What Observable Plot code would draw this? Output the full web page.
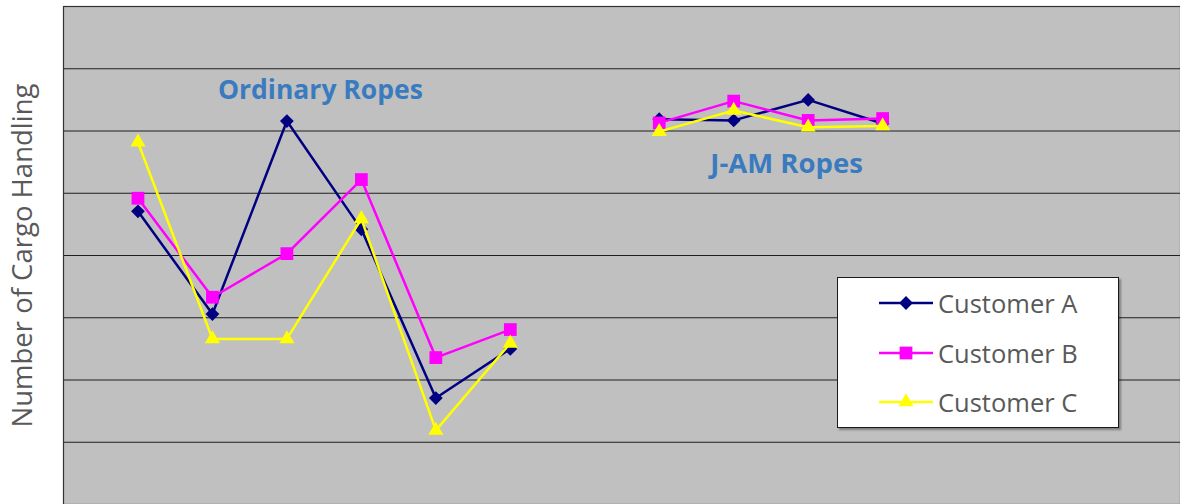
<!DOCTYPE html>
<html>
<head>
<meta charset="utf-8">
<script src="https://cdn.jsdelivr.net/npm/d3@7"></script>
<script src="https://cdn.jsdelivr.net/npm/@observablehq/plot@0.6"></script>
<style>
  body { margin: 0; background: #fff; font-family: "Open Sans", sans-serif; }
  #wrap { position: relative; width: 1180px; height: 504px; overflow: hidden; }
  #legend { position: absolute; left: 837px; top: 277px; width: 280px; height: 149px;
            background: #fff; border: 1px solid #1a1a1a; box-shadow: 2px 2px 2px rgba(0,0,0,0.35); }
  .row { position: absolute; left: 40px; height: 30px; display: flex; align-items: center; }
  .row span { font-size: 25.5px; color: #595959; margin-left: 4px; white-space: nowrap; }
</style>
</head>
<body>
<div id="wrap"><div id="chart"></div><div id="legend"></div></div>
<script>
// Category slots along the x axis (two rope groups separated by a gap)
const sampleIndex = [0, 1, 2, 3, 4, 5, 7, 8, 9, 10];
const ropeGroup = ["Ordinary", "Ordinary", "Ordinary", "Ordinary", "Ordinary", "Ordinary",
                   "J-AM", "J-AM", "J-AM", "J-AM"];
const customerA = [4.71, 3.06, 6.16, 4.42, 1.71, 2.50, 6.19, 6.17, 6.50, 6.12];
const customerB = [4.92, 3.33, 4.03, 5.22, 2.36, 2.81, 6.13, 6.48, 6.17, 6.20];
const customerC = [5.82, 2.66, 2.66, 4.59, 1.19, 2.59, 5.99, 6.33, 6.06, 6.08];
const customers = ["Customer A", "Customer B", "Customer C"];
const colors = ["#000080", "#FF00FF", "#FFFF00"];
const symbols = ["diamond2", "square", "triangle"];
const gridValues = [1, 2, 3, 4, 5, 6, 7];
const groupLabels = ["Ordinary Ropes", "J-AM Ropes"];
const yLabel = "Number of Cargo Handling";

const series = [customerA, customerB, customerC];
const data = [];
series.forEach((vals, s) => vals.forEach((v, i) => data.push({
  customer: customers[s], group: ropeGroup[i], x: sampleIndex[i], y: v
})));

const symbolSize = {"Customer A": 6.2, "Customer B": 7.2, "Customer C": 5.6};

const marks = [
  Plot.frame({fill: "#C0C0C0"}),
  Plot.ruleY(gridValues, {stroke: "#1f1f1f", strokeWidth: 1.2}),
  Plot.frame({stroke: "#333", strokeWidth: 1.2}),
  Plot.axisY({ticks: [], label: yLabel, labelAnchor: "center", labelArrow: "none",
              labelOffset: 51, fontSize: 27.5, fill: "#595959", fontFamily: "Open Sans"}),
  Plot.text([groupLabels[0]], {x: () => 2.45, y: () => 6.65, text: d => d,
             fontSize: 26.5, fontWeight: "bold", fill: "#3A7BBF", fontFamily: "Open Sans"}),
  Plot.text([groupLabels[1]], {x: () => 8.71, y: () => 5.47, text: d => d,
             fontSize: 27.5, fontWeight: "bold", fill: "#3A7BBF", fontFamily: "Open Sans"})
];
customers.forEach((c, s) => {
  const d = data.filter(r => r.customer === c);
  marks.push(Plot.line(d, {x: "x", y: "y", z: "group", stroke: colors[s], strokeWidth: 2.5}));
  marks.push(Plot.dot(d, {x: "x", y: "y", symbol: () => symbols[s], fill: colors[s],
                          stroke: "none", r: symbolSize[c]}));
});

const chart = Plot.plot({
  width: 1180, height: 504,
  marginLeft: 63, marginRight: 0, marginTop: 6, marginBottom: 0,
  x: {type: "linear", domain: [-1, 14], axis: null},
  y: {domain: [0, 8], axis: null},
  symbol: {type: "identity"},
  style: {background: "transparent", fontFamily: "Open Sans"},
  marks
});
document.getElementById("chart").appendChild(chart);

// Legend (HTML overlay)
const legend = d3.select("#legend");
const rowTops = [10, 60, 109];
customers.forEach((c, s) => {
  const row = legend.append("div").attr("class", "row").style("top", rowTops[s] + "px");
  const svg = row.append("svg").attr("width", 56).attr("height", 30);
  svg.append("line").attr("x1", 1).attr("x2", 55).attr("y1", 15).attr("y2", 15)
     .attr("stroke", colors[s]).attr("stroke-width", 2.5);
  const sym = {diamond2: d3.symbolDiamond2, square: d3.symbolSquare, triangle: d3.symbolTriangle}[symbols[s]];
  const r = symbolSize[c];
  svg.append("path").attr("d", d3.symbol(sym, r * r * Math.PI)())
     .attr("transform", "translate(28,15)").attr("fill", colors[s]);
  row.append("span").text(c);
});
</script>
</body>
</html>
